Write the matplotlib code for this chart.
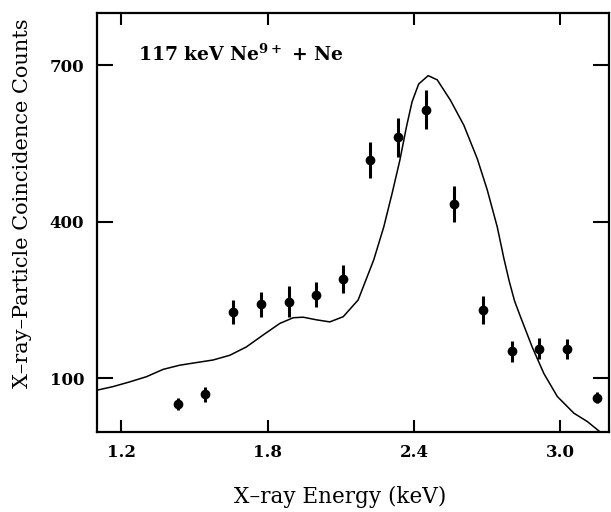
import matplotlib
matplotlib.use("Agg")
import matplotlib.pyplot as plt

# measured data points
energy = [1.431, 1.544, 1.658, 1.773, 1.887, 2.000, 2.108, 2.221, 2.335, 2.449,
          2.565, 2.681, 2.800, 2.914, 3.027, 3.148]
counts = [51, 69, 227, 242, 247, 260, 291, 518, 562, 615,
          434, 231, 152, 157, 156, 63]
errors = [12, 14, 23, 24, 29, 24, 27, 34, 37, 38,
          35, 27, 20, 21, 19, 11]

# theoretical curve
curve_e = [1.100, 1.167, 1.235, 1.304, 1.372, 1.440, 1.508, 1.577, 1.645, 1.713,
           1.782, 1.850, 1.905, 1.946, 2.000, 2.055, 2.110, 2.171, 2.235, 2.276,
           2.310, 2.342, 2.369, 2.392, 2.419, 2.458, 2.495, 2.549, 2.604, 2.659,
           2.700, 2.741, 2.768, 2.790, 2.812, 2.836, 2.884, 2.932, 2.987, 3.055,
           3.110, 3.160]
curve_c = [77, 84, 93, 103, 117, 125, 130, 135, 144, 160,
           183, 205, 216, 217, 212, 208, 218, 250, 327, 390,
           454, 518, 582, 630, 664, 680, 672, 633, 585, 521,
           461, 390, 330, 286, 248, 218, 160, 109, 65, 33,
           17, -2]

xticks = [1.2, 1.8, 2.4, 3.0]
xticklabels = ["1.2", "1.8", "2.4", "3.0"]
yticks = [100, 400, 700]
yticklabels = ["100", "400", "700"]

plt.rcParams['font.family'] = ['DejaVu Serif']
plt.rcParams['mathtext.fontset'] = 'dejavuserif'
plt.rcParams['mathtext.default'] = 'bf'

fig = plt.figure(figsize=(6.11, 5.12), dpi=100)
ax = fig.add_axes([0.1583, 0.1568, 0.8389, 0.8172])

ax.plot(curve_e, curve_c, color='black', lw=1.1, solid_joinstyle='round')
ax.errorbar(energy, counts, yerr=errors, fmt='o', color='black', ms=6,
            elinewidth=2.2, capsize=0)

ax.set_xlim(1.10, 3.20)
ax.set_ylim(-2.5, 799.5)
ax.set_xticks(xticks)
ax.set_xticklabels(xticklabels, fontweight='bold', fontsize=12)
ax.set_yticks(yticks)
ax.set_yticklabels(yticklabels, fontweight='bold', fontsize=12)
ax.tick_params(axis='x', direction='in', length=8.6, width=1.5, top=True, pad=9)
ax.tick_params(axis='y', direction='in', length=11.5, width=1.5, right=True, pad=9)
for s in ax.spines.values():
    s.set_linewidth(1.6)

ax.set_xlabel("X\u2013ray Energy (keV)", fontsize=15.5)
ax.set_ylabel("X\u2013ray\u2013Particle Coincidence Counts", fontsize=15)
ax.xaxis.set_label_coords(0.4746, -0.13)
ax.yaxis.set_label_coords(-0.126, 0.5466)

ax.text(0.0806, 0.9027, "117 keV Ne$^{9+}$ + Ne", transform=ax.transAxes,
        fontsize=13.5, fontweight='bold', va='center', ha='left')

fig.savefig("out.png", dpi=100)
